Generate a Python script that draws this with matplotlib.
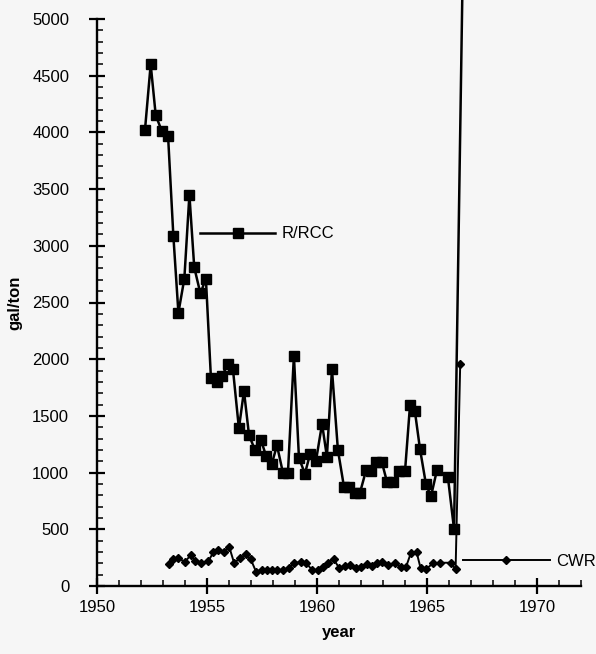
import matplotlib
matplotlib.use("Agg")
import matplotlib.pyplot as plt
from matplotlib.ticker import MultipleLocator

plt.rcParams['font.family'] = ['Liberation Sans', 'DejaVu Sans']

# R/RCC series (year, gal/ton)
rrcc_year = [1952.18, 1952.44, 1952.67, 1952.95, 1953.23, 1953.47, 1953.70, 1953.97,
             1954.20, 1954.42, 1954.70, 1954.95, 1955.18, 1955.45, 1955.68, 1955.95,
             1956.18, 1956.45, 1956.68, 1956.91, 1957.18, 1957.45, 1957.68, 1957.95,
             1958.18, 1958.45, 1958.68, 1958.95, 1959.18, 1959.45, 1959.68, 1959.95,
             1960.23, 1960.45, 1960.68, 1960.95, 1961.23, 1961.45, 1961.73, 1961.95,
             1962.23, 1962.45, 1962.68, 1962.95, 1963.18, 1963.45, 1963.73, 1964.00,
             1964.23, 1964.45, 1964.68, 1964.95, 1965.18, 1965.45, 1965.95, 1966.23,
             1966.62]
rrcc_val = [4020, 4600, 4150, 4010, 3970, 3090, 2410, 2710,
            3450, 2810, 2580, 2710, 1830, 1800, 1850, 1960,
            1910, 1390, 1720, 1330, 1200, 1290, 1150, 1080,
            1240, 1000, 1000, 2030, 1130, 990, 1160, 1100,
            1430, 1140, 1910, 1200, 870, 870, 820, 820,
            1020, 1010, 1090, 1090, 920, 920, 1010, 1010,
            1600, 1540, 1210, 900, 790, 1020, 960, 500,
            5400]

# CWR series (year, gal/ton)
cwr_year = [1953.29, 1953.47, 1953.70, 1954.00, 1954.26, 1954.45, 1954.71, 1955.06,
            1955.29, 1955.51, 1955.77, 1956.01, 1956.23, 1956.50, 1956.76, 1956.99,
            1957.23, 1957.49, 1957.71, 1957.94, 1958.17, 1958.47, 1958.74, 1958.97,
            1959.26, 1959.50, 1959.79, 1960.04, 1960.26, 1960.48, 1960.75, 1961.00,
            1961.25, 1961.50, 1961.76, 1962.00, 1962.26, 1962.49, 1962.71, 1962.97,
            1963.24, 1963.55, 1963.80, 1964.05, 1964.27, 1964.53, 1964.71, 1964.95,
            1965.26, 1965.59, 1966.07, 1966.30, 1966.51]
cwr_val = [193, 235, 243, 214, 272, 222, 199, 217,
           299, 316, 301, 345, 205, 243, 281, 235,
           126, 141, 141, 141, 141, 141, 161, 205,
           208, 205, 138, 140, 170, 199, 240, 160,
           176, 185, 156, 170, 191, 179, 205, 208,
           185, 205, 170, 170, 293, 296, 156, 147,
           199, 205, 205, 147, 1960]

x_ticks = [1950, 1955, 1960, 1965, 1970]
y_ticks = [0, 500, 1000, 1500, 2000, 2500, 3000, 3500, 4000, 4500, 5000]

bg = '#f6f6f6'
fig = plt.figure(figsize=(5.96, 6.54), dpi=100, facecolor=bg)
ax = fig.add_axes([97/596, 1-586/654, 484/596, 567/654])
ax.set_facecolor(bg)

l1, = ax.plot(rrcc_year, rrcc_val, color='black', lw=1.8, marker='s', ms=6.5,
              clip_on=False, label='R/RCC', zorder=3)
l2, = ax.plot(cwr_year, cwr_val, color='black', lw=1.4, marker='D', ms=4,
              clip_on=False, label='CWR', zorder=3)

ax.set_xlim(1950, 1972)
ax.set_ylim(0, 5000)
ax.set_xticks(x_ticks)
ax.set_yticks(y_ticks)
ax.xaxis.set_minor_locator(MultipleLocator(1))
ax.yaxis.set_minor_locator(MultipleLocator(100))

for s in ['top', 'right']:
    ax.spines[s].set_visible(False)
for s in ['left', 'bottom']:
    ax.spines[s].set_linewidth(1.7)

ax.tick_params(axis='both', which='major', direction='inout', length=11, width=1.6,
               labelsize=12)
ax.tick_params(axis='both', which='minor', direction='in', length=4.5, width=1.1)
ax.tick_params(axis='y', which='major', pad=14.5)
ax.tick_params(axis='x', which='major', pad=4.5)

ax.set_xlabel('year', fontsize=12, fontweight='bold', va='top')
ax.xaxis.set_label_coords(0.5, -0.068)
ax.set_ylabel('gal/ton', fontsize=12, fontweight='bold', va='center')
ax.yaxis.set_label_coords(-0.169, 0.5)

leg1 = ax.legend(handles=[l1], loc='center left', bbox_to_anchor=(0.213, 0.621),
                 frameon=False, fontsize=12, handlelength=4.5, handletextpad=0.42,
                 borderpad=0, borderaxespad=0, numpoints=1)
ax.add_artist(leg1)
leg2 = ax.legend(handles=[l2], loc='center left', bbox_to_anchor=(0.756, 0.044),
                 frameon=False, fontsize=12, handlelength=5.2, handletextpad=0.42,
                 borderpad=0, borderaxespad=0, numpoints=1)

fig.savefig('out.png', dpi=100, facecolor=bg)
